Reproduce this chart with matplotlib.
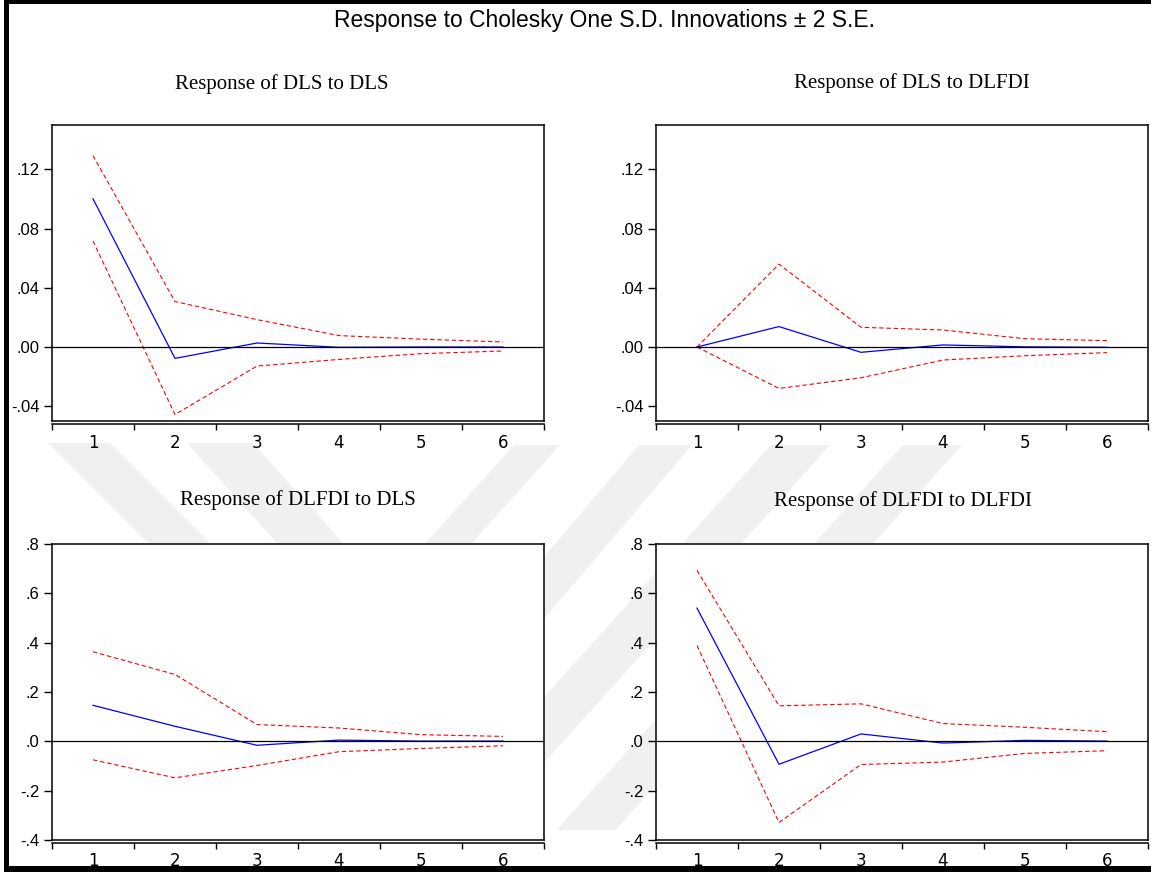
import matplotlib
matplotlib.use("Agg")
import matplotlib.pyplot as plt
from matplotlib.patches import Polygon, Rectangle
import numpy as np

# impulse responses, periods 1..6
periods = [1, 2, 3, 4, 5, 6]

dls_dls = [0.1001, -0.0077, 0.0027, -0.0002, 0.0000, 0.0000]
dls_dls_hi = [0.1293, 0.0307, 0.0185, 0.0077, 0.0053, 0.0034]
dls_dls_lo = [0.0716, -0.0456, -0.0129, -0.0084, -0.0045, -0.0027]

dls_dlfdi = [0.0000, 0.0138, -0.0036, 0.0014, 0.0001, -0.0002]
dls_dlfdi_hi = [0.0000, 0.0560, 0.0133, 0.0115, 0.0056, 0.0043]
dls_dlfdi_lo = [0.0000, -0.0280, -0.0208, -0.0088, -0.0059, -0.0038]

dlfdi_dls = [0.146, 0.061, -0.016, 0.005, 0.001, 0.001]
dlfdi_dls_hi = [0.363, 0.271, 0.068, 0.054, 0.027, 0.020]
dlfdi_dls_lo = [-0.075, -0.148, -0.098, -0.042, -0.029, -0.018]

dlfdi_dlfdi = [0.540, -0.093, 0.030, -0.007, 0.004, 0.001]
dlfdi_dlfdi_hi = [0.693, 0.144, 0.152, 0.072, 0.057, 0.039]
dlfdi_dlfdi_lo = [0.388, -0.329, -0.094, -0.084, -0.049, -0.038]

top_ticks = [-0.04, 0.00, 0.04, 0.08, 0.12]
top_labels = ["-.04", ".00", ".04", ".08", ".12"]
bot_ticks = [-0.4, -0.2, 0.0, 0.2, 0.4, 0.6, 0.8]
bot_labels = ["-.4", "-.2", ".0", ".2", ".4", ".6", ".8"]

main_title = "Response to Cholesky One S.D. Innovations \u00b1 2 S.E."
titles = ["Response of DLS to DLS", "Response of DLS to DLFDI",
          "Response of DLFDI to DLS", "Response of DLFDI to DLFDI"]

W, H = 1151, 874
fig = plt.figure(figsize=(W / 100, H / 100), dpi=100)
fig.patch.set_facecolor("white")


def px_box(x0, y0, x1, y1):
    # pixel box (y down) -> figure fraction rect
    return [x0 / W, 1 - y1 / H, (x1 - x0) / W, (y1 - y0) / H]


def fpt(x, y):
    return (x / W, 1 - y / H)


# faint watermark bands behind everything
wm = "#f0f0f0"
bands = [
    # (x_left_top, x_right_top, y_top, slope dx/dy, y_bottom)
    (48, 110, 443, 1.0, 545),
    (187, 253, 443, 0.9, 545),
    (514, 560, 445, -0.9, 830),
    (639, 692, 445, -0.85, 830),
    (771, 830, 445, -0.9, 830),
    (903, 962, 445, -0.9, 830),
]
for xl, xr, yt, s, yb in bands:
    d = (yb - yt) * s
    pts = [fpt(xl, yt), fpt(xr, yt), fpt(xr + d, yb), fpt(xl + d, yb)]
    fig.add_artist(Polygon(pts, closed=True, transform=fig.transFigure,
                           facecolor=wm, edgecolor="none", zorder=0))

# frame around the whole picture (left, top, bottom)
for r in [px_box(4, 0, 9, 872), px_box(4, 0, W, 4), px_box(4, 866, W, 872)]:
    fig.add_artist(Rectangle((r[0], r[1]), r[2], r[3], transform=fig.transFigure,
                             facecolor="black", edgecolor="none", zorder=5))

fig.text(605 / W, 1 - 20 / H, main_title, ha="center", va="center",
         fontsize=16.5, family="Liberation Sans")

panels = [
    (px_box(52, 125, 544, 421), dls_dls, dls_dls_hi, dls_dls_lo, (-0.05, 0.15), top_ticks, top_labels, (282, 84)),
    (px_box(656, 125, 1148, 421), dls_dlfdi, dls_dlfdi_hi, dls_dlfdi_lo, (-0.05, 0.15), top_ticks, top_labels, (912, 83)),
    (px_box(52, 544, 544, 840), dlfdi_dls, dlfdi_dls_hi, dlfdi_dls_lo, (-0.4, 0.8), bot_ticks, bot_labels, (298, 500)),
    (px_box(656, 544, 1148, 840), dlfdi_dlfdi, dlfdi_dlfdi_hi, dlfdi_dlfdi_lo, (-0.4, 0.8), bot_ticks, bot_labels, (903, 501)),
]

for i, (rect, resp, hi, lo, ylim, yt, yl, tpos) in enumerate(panels):
    ax = fig.add_axes(rect)
    ax.set_facecolor("white")
    ax.plot(periods, hi, color="#ff0000", lw=0.8, ls=(0, (4, 2.5)))
    ax.plot(periods, lo, color="#ff0000", lw=0.8, ls=(0, (4, 2.5)))
    ax.plot(periods, resp, color="#0000ff", lw=0.9)
    ax.axhline(0, color="black", lw=0.9)
    ax.set_xlim(0.5, 6.5)
    ax.set_ylim(*ylim)
    ax.set_yticks(yt)
    ax.set_yticklabels(yl)
    ax.set_xticks(periods)
    ax.set_xticks(np.arange(0.5, 7, 1), minor=True)
    ax.tick_params(axis="x", which="major", length=0, pad=7, labelsize=12)
    ax.tick_params(axis="x", which="minor", length=4.5, width=1, direction="out")
    ax.tick_params(axis="y", length=6, width=1, pad=3, labelsize=12)
    for lab in ax.get_xticklabels() + ax.get_yticklabels():
        lab.set_family("Liberation Sans")
    for sp in ax.spines.values():
        sp.set_linewidth(1.1)
    ax.spines["bottom"].set_position(("outward", 2))
    ax.plot([0, 1], [0, 0], transform=ax.transAxes, color="black", lw=1.1, clip_on=False)
    fig.text(tpos[0] / W, 1 - tpos[1] / H, titles[i], ha="center", va="center",
             fontsize=15, family="Liberation Serif")

fig.savefig("out.png", dpi=100)
